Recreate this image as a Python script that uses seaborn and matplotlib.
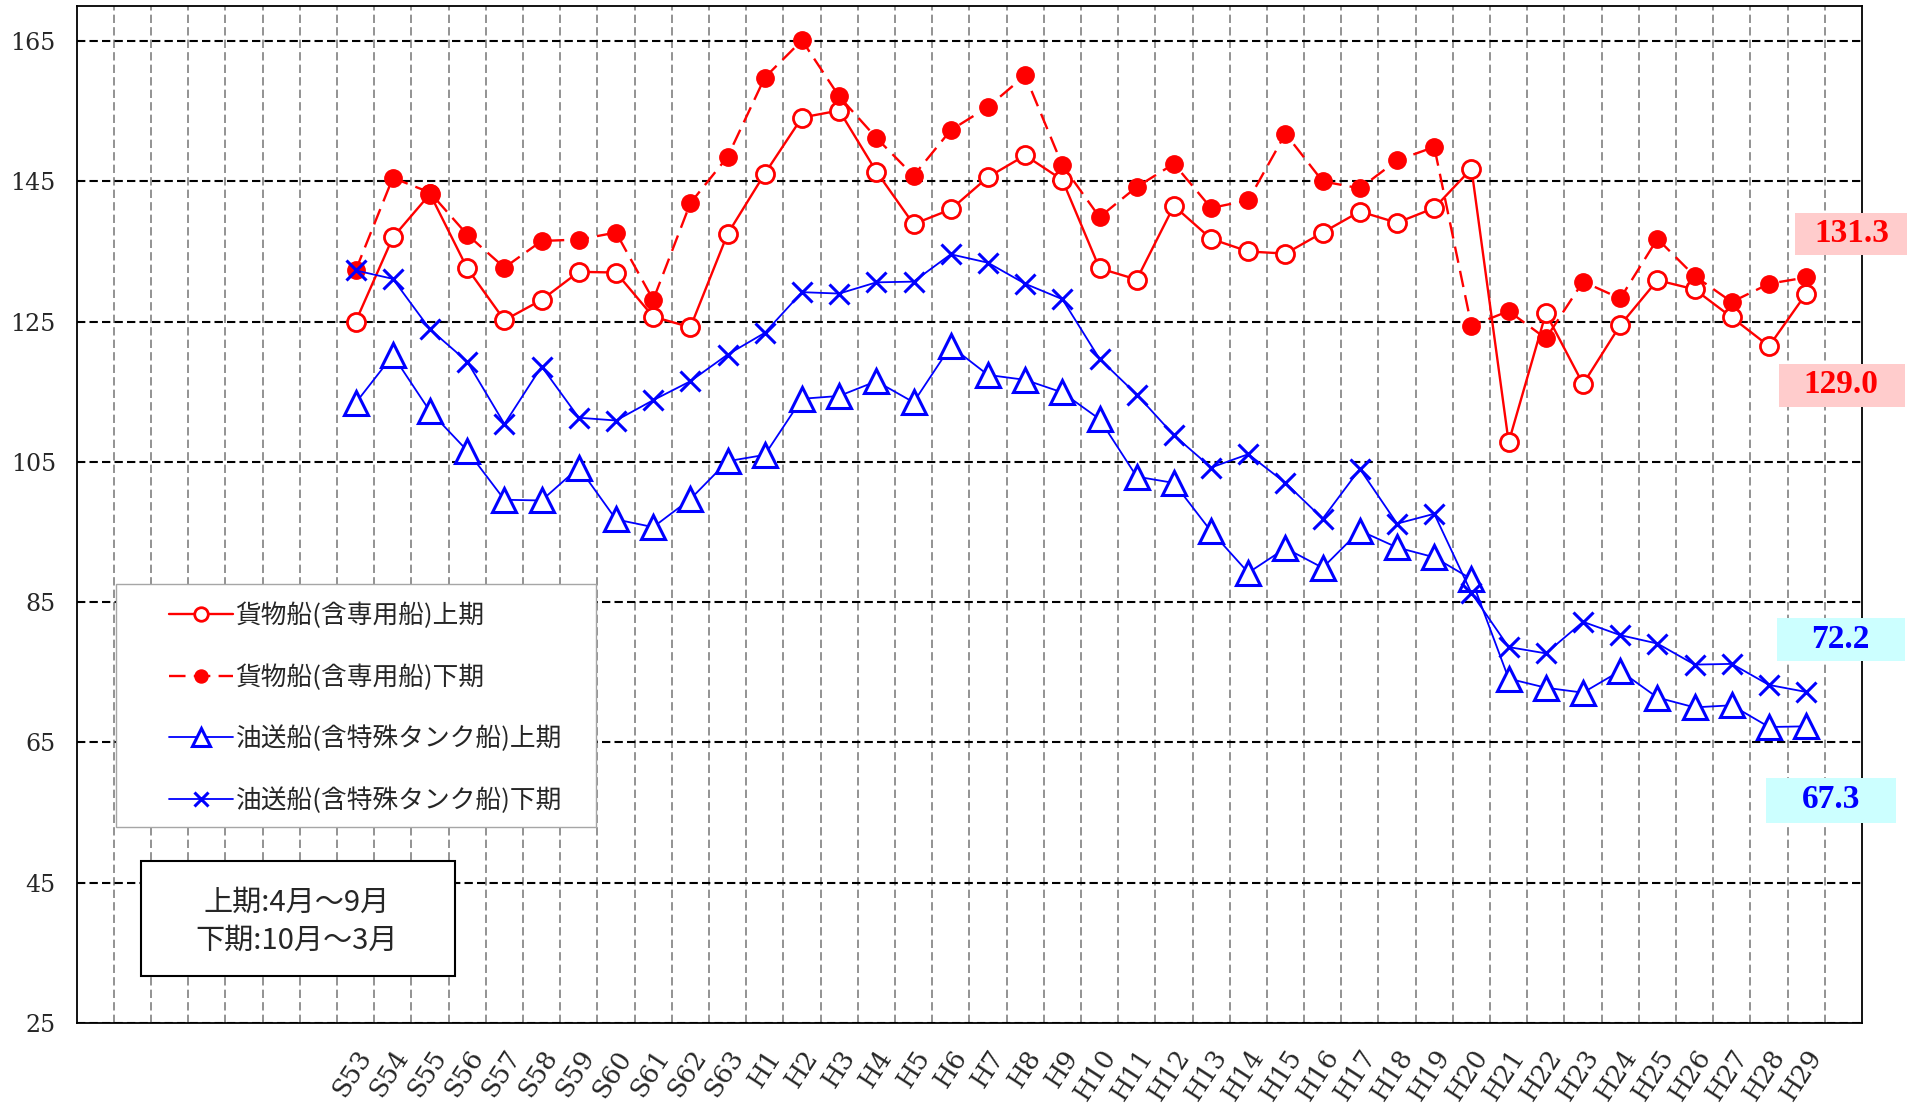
import numpy as np
import pandas as pd
import seaborn as sns
import matplotlib.pyplot as plt
from matplotlib.patches import Rectangle
from matplotlib.ticker import FixedLocator
from matplotlib.transforms import ScaledTranslation

# 年度ラベル (S53〜H29)
years = [f'S{n}' for n in range(53, 64)] + [f'H{n}' for n in range(1, 30)]
LEAD_EMPTY = 7   # 左側の空きカテゴリ
TRAIL_EMPTY = 1  # 右側の空きカテゴリ

# 貨物船（含専用船）上期
cargo_1h = [125.0, 137.0, 143.2, 132.6, 125.2, 128.1, 132.1, 132.0, 125.7, 124.2,
            137.5, 146.1, 154.1, 155.1, 146.4, 138.9, 141.0, 145.6, 148.7, 145.2,
            132.6, 131.0, 141.5, 136.8, 135.0, 134.7, 137.7, 140.7, 139.1, 141.2,
            146.8, 107.8, 126.2, 116.1, 124.5, 130.9, 129.6, 125.6, 121.5, 129.0]
# 貨物船（含専用船）下期
cargo_2h = [132.3, 145.5, 143.4, 137.4, 132.7, 136.5, 136.7, 137.7, 128.1, 141.9,
            148.5, 159.8, 165.1, 157.1, 151.2, 145.8, 152.3, 155.6, 160.1, 147.3,
            139.9, 144.2, 147.5, 141.2, 142.3, 151.8, 145.0, 144.0, 148.0, 149.9,
            124.4, 126.5, 122.6, 130.7, 128.3, 136.8, 131.5, 127.8, 130.4, 131.3]
# 油送船（含特殊タンク船）上期
tanker_1h = [113.4, 120.2, 112.2, 106.6, 99.6, 99.5, 104.2, 96.8, 95.7, 99.7,
             105.1, 106.0, 114.0, 114.4, 116.5, 113.5, 121.5, 117.4, 116.7, 114.9,
             111.1, 102.9, 102.0, 95.1, 89.2, 92.7, 89.9, 95.2, 92.8, 91.4,
             88.3, 74.1, 72.8, 72.1, 75.2, 71.4, 70.0, 70.3, 67.2, 67.3]
# 油送船（含特殊タンク船）下期
tanker_2h = [132.3, 131.1, 123.9, 119.3, 110.4, 118.6, 111.3, 110.9, 113.8, 116.5,
             120.3, 123.4, 129.2, 129.0, 130.6, 130.7, 134.6, 133.4, 130.4, 128.2,
             119.7, 114.6, 108.8, 104.2, 106.1, 102.0, 96.9, 104.0, 96.2, 97.6,
             86.3, 78.6, 77.7, 82.2, 80.3, 79.1, 76.1, 76.2, 73.2, 72.2]

labels = ['貨物船(含専用船)上期', '貨物船(含専用船)下期',
          '油送船(含特殊タンク船)上期', '油送船(含特殊タンク船)下期']

yticks = [25, 45, 65, 85, 105, 125, 145, 165]

df = pd.DataFrame({'x': np.arange(len(years)) + LEAD_EMPTY,
                   'cargo_1h': cargo_1h, 'cargo_2h': cargo_2h,
                   'tanker_1h': tanker_1h, 'tanker_2h': tanker_2h})

sns.set_style('white')
plt.rcParams['font.family'] = ['Noto Sans CJK JP', 'DejaVu Sans']

W, H = 1908, 1104
fig = plt.figure(figsize=(W / 100, H / 100), dpi=100)
ax = fig.add_axes([76.7 / W, 1 - 1023 / H, (1862 - 76.7) / W, (1023 - 6) / H])

RED, BLUE = '#FF0000', '#0000FF'
sns.lineplot(data=df, x='x', y='cargo_1h', ax=ax, color=RED, lw=1.7,
             marker='o', markersize=13, markerfacecolor='white',
             markeredgecolor=RED, markeredgewidth=2, label=labels[0])
sns.lineplot(data=df, x='x', y='cargo_2h', ax=ax, color=RED, lw=1.7,
             linestyle=(0, (7, 3.5)), marker='o', markersize=12.5,
             markerfacecolor=RED, markeredgecolor=RED, markeredgewidth=1,
             label=labels[1])
sns.lineplot(data=df, x='x', y='tanker_1h', ax=ax, color=BLUE, lw=1.3,
             marker='^', markersize=17, markerfacecolor='white',
             markeredgecolor=BLUE, markeredgewidth=2.2, label=labels[2])
sns.lineplot(data=df, x='x', y='tanker_2h', ax=ax, color=BLUE, lw=1.3,
             marker='x', markersize=14, markeredgecolor=BLUE,
             markeredgewidth=2.2, label=labels[3])

n_cat = LEAD_EMPTY + len(years) + TRAIL_EMPTY
ax.set_xlim(-0.5, n_cat - 0.5)
ax.set_ylim(25, 170)
ax.set_xlabel('')
ax.set_ylabel('')

# 軸目盛り
ax.set_yticks(yticks)
ax.set_yticklabels([str(v) for v in yticks], fontfamily='DejaVu Serif', fontsize=17)
ax.set_xticks(df['x'])
ax.set_xticklabels(years, fontfamily='DejaVu Serif', fontsize=18.5, rotation=57,
                   ha='right', va='top', rotation_mode='anchor')
shift = ScaledTranslation(11 / 100, 0, fig.dpi_scale_trans)
for t in ax.get_xticklabels():
    t.set_transform(t.get_transform() + shift)
ax.tick_params(axis='both', length=0)
ax.tick_params(axis='y', pad=15)
ax.tick_params(axis='x', pad=16)

# 目盛線
ax.xaxis.set_minor_locator(FixedLocator(np.arange(0.5, n_cat - 1, 1.0)))
ax.tick_params(axis='x', which='minor', length=0)
ax.grid(axis='x', which='minor', color='#808080', lw=1.2, linestyle=(0, (5, 2.5)))
ax.grid(axis='x', which='major', visible=False)
ax.grid(axis='y', which='major', color='black', lw=1.5, linestyle=(0, (4, 2)))
ax.set_axisbelow(True)
for s in ax.spines.values():
    s.set_visible(True)
    s.set_color('black')
    s.set_linewidth(1.3)

# 凡例
ax.add_patch(Rectangle((116 / W, 1 - 827 / H), 480 / W, 243 / H,
                       transform=fig.transFigure, facecolor='white',
                       edgecolor='#A6A6A6', lw=1, zorder=4, clip_on=False))
leg = ax.legend(loc='upper left', bbox_to_anchor=(156 / W, 1 - 590 / H),
                bbox_transform=fig.transFigure, frameon=False, fontsize=18.5,
                handlelength=2.5, handletextpad=0.1, labelspacing=1.36,
                borderpad=0, markerscale=0.75)
leg.set_zorder(6)

# 注記
ax.add_patch(Rectangle((141 / W, 1 - 976 / H), 314 / W, 115 / H,
                       transform=fig.transFigure, facecolor='white',
                       edgecolor='black', lw=1.5, zorder=4, clip_on=False))
ax.text(297 / W, 1 - 903 / H, '上期:4月～9月', transform=fig.transFigure,
        ha='center', va='center', fontsize=21, zorder=6)
ax.text(297 / W, 1 - 941 / H, '下期:10月～3月', transform=fig.transFigure,
        ha='center', va='center', fontsize=21, zorder=6)

# 最新値ラベル
value_boxes = [
    ('131.3', RED, '#FFCCCC', (1795, 213, 1908, 255), (1852, 234)),
    ('129.0', RED, '#FFCCCC', (1779, 364, 1905, 407), (1841, 385)),
    ('72.2', BLUE, '#CCFFFF', (1777, 618, 1905, 661), (1840, 639)),
    ('67.3', BLUE, '#CCFFFF', (1766, 778, 1896, 823), (1831, 800)),
]
for txt, tc, bc, (x0, y0, x1, y1), (tx, ty) in value_boxes:
    fig.add_artist(Rectangle((x0 / W, 1 - y1 / H), (x1 - x0) / W, (y1 - y0) / H,
                             transform=fig.transFigure, facecolor=bc,
                             edgecolor='none', zorder=5))
    fig.text(tx / W, 1 - ty / H, txt, color=tc, fontsize=24, fontweight='bold',
             fontfamily='Liberation Serif', ha='center', va='center', zorder=6)

fig.savefig('out.png', dpi=100)
